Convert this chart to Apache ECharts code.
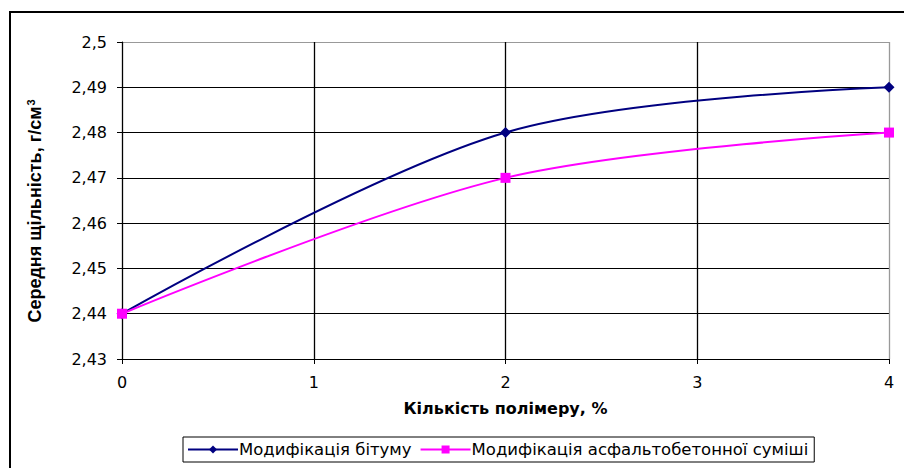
<!DOCTYPE html>
<html>
<head>
<meta charset="utf-8">
<script src="https://cdn.jsdelivr.net/npm/echarts@6/dist/echarts.min.js"></script>
<style>
  html, body { margin: 0; padding: 0; background: #fff; }
  #chart { width: 904px; height: 468px; }
</style>
</head>
<body>
<div id="chart"></div>
<script>
// Polymer content, %
const polymerContent = [0, 2, 4];
// Mean density, g/cm3
const bitumenModification = [2.44, 2.48, 2.49];
const asphaltMixModification = [2.44, 2.47, 2.48];
const seriesNames = ['Модифікація бітуму', 'Модифікація асфальтобетонної суміші'];

const WIDE = '"DejaVu Sans", Verdana, sans-serif';
const TITLE = '"Liberation Sans", Arial, sans-serif';

const chart = echarts.init(document.getElementById('chart'), null, { renderer: 'svg' });

function pairs(xs, ys) { return xs.map((x, i) => [x, ys[i]]); }

chart.setOption({
  animation: false,
  backgroundColor: '#fff',
  textStyle: { fontFamily: WIDE },
  grid: { left: 122, right: 15, top: 42, bottom: 109 },
  graphic: [
    {
      type: 'rect',
      shape: { x: 10, y: 12, width: 1000, height: 1000 },
      style: { fill: 'none', stroke: '#000', lineWidth: 2 },
      silent: true
    },
    {
      // vertical axis title with superscript unit
      type: 'text',
      x: 35, y: 211,
      rotation: Math.PI / 2,
      style: {
        text: '{a|Середня щільність, г/см}{s|3}',
        align: 'center',
        verticalAlign: 'middle',
        rich: {
          a: { fontFamily: TITLE, fontSize: 18, fontWeight: 'bold', fill: '#000' },
          s: { fontFamily: TITLE, fontSize: 11, fontWeight: 'bold', fill: '#000', verticalAlign: 'top', padding: [0, 0, 9, 1] }
        }
      },
      silent: true
    }
  ],
  xAxis: {
    type: 'value',
    min: 0, max: 4, interval: 1,
    name: 'Кількість полімеру, %',
    nameLocation: 'middle',
    nameGap: 41,
    nameTextStyle: { fontFamily: WIDE, fontSize: 16, fontWeight: 'bold', color: '#000' },
    axisLine: { lineStyle: { color: '#000', width: 1 } },
    axisTick: { show: true, length: 5, lineStyle: { color: '#000' } },
    axisLabel: { margin: 15, fontSize: 16, color: '#000', fontFamily: WIDE },
    splitLine: { show: true, lineStyle: { color: ['#000', '#000', '#000', '#000', '#999'], width: 1.3 } }
  },
  yAxis: {
    type: 'value',
    min: 2.43, max: 2.5, interval: 0.01,
    axisLine: { show: true, lineStyle: { color: '#000', width: 1 } },
    axisTick: { show: true, length: 5, lineStyle: { color: '#000' } },
    axisLabel: {
      margin: 15, fontSize: 16, color: '#000', fontFamily: WIDE,
      formatter: v => String(Number(v.toFixed(2))).replace('.', ',')
    },
    splitLine: { show: true, lineStyle: { color: ['#000', '#000', '#000', '#000', '#000', '#000', '#000', '#999'], width: 1 } }
  },
  legend: {
    left: 183, top: 437,
    orient: 'horizontal',
    borderColor: '#000', borderWidth: 1,
    padding: [4, 6, 4, 4],
    itemGap: 8,
    itemWidth: 50, itemHeight: 10,
    textStyle: { fontFamily: WIDE, fontSize: 16.5, color: '#000', padding: [0, 0, 0, -4] },
    data: seriesNames
  },
  series: [
    {
      name: seriesNames[0],
      type: 'line',
      smooth: 0.33,
      data: pairs(polymerContent, bitumenModification),
      symbol: 'diamond', symbolSize: 11,
      itemStyle: { color: '#000080' },
      lineStyle: { color: '#000080', width: 2 },
      z: 2
    },
    {
      name: seriesNames[1],
      type: 'line',
      smooth: 0.33,
      data: pairs(polymerContent, asphaltMixModification),
      symbol: 'rect', symbolSize: 10,
      itemStyle: { color: '#ff00ff' },
      lineStyle: { color: '#ff00ff', width: 2 },
      z: 3
    }
  ]
});
</script>
</body>
</html>
